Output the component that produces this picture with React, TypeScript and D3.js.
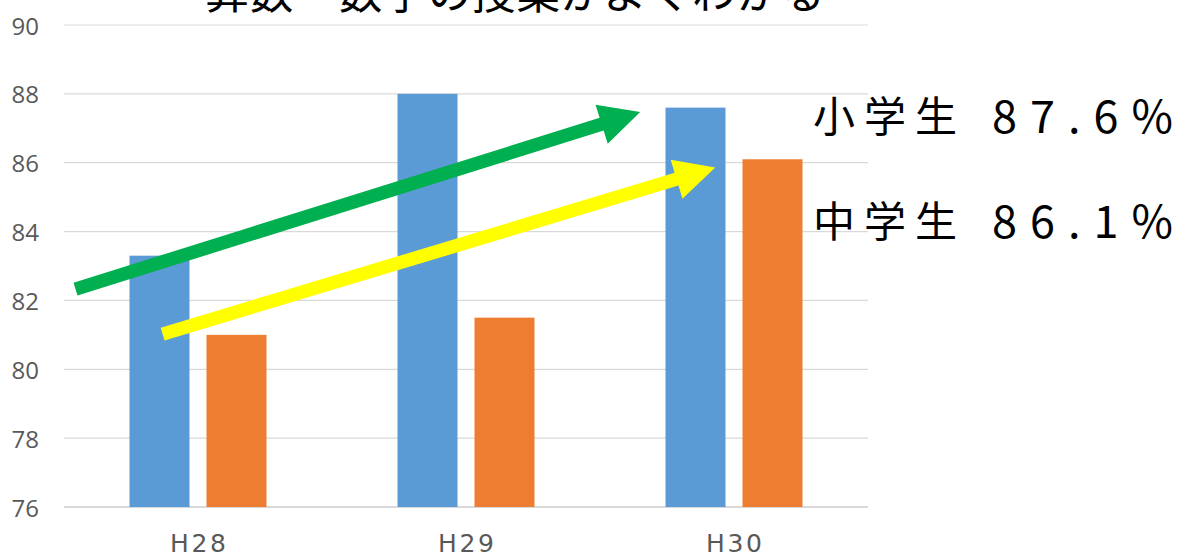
import * as d3 from 'd3';

const categories = ['H28', 'H29', 'H30'];
const seriesNames = ['小学生', '中学生'];
const elementary = [83.3, 88.0, 87.6];
const juniorHigh = [81.0, 81.5, 86.1];
const yTicks = [76, 78, 80, 82, 84, 86, 88, 90];
const title = '算数・数学の授業がよくわかる';
const calloutValues = ['87.6%', '86.1%'];
// arrow annotations in (category position, value) space
const arrowFrom: [number, number][] = [[0.043, 82.33], [0.368, 81.02]];
const arrowTo: [number, number][] = [[2.15, 87.47], [2.43, 85.86]];
const arrowColors = ['#00B050', '#FFFF00'];

const W = 1187;
const H = 556;
const left = 64;
const right = 868;
const top = 25;
const bottom = 507;

const colors = ['#5B9BD5', '#ED7D31'];

export default function App() {
    const x0 = d3.scaleBand().domain(categories).range([left, right]).padding(0);
    const x1 = d3.scaleBand().domain(seriesNames).range([65.5, 202.5]).paddingInner(0.2208).paddingOuter(0);
    const xPos = d3.scaleLinear().domain([0, 3]).range([left, right]);
    const y = d3.scaleLinear().domain([76, 90]).range([bottom, top]);
    const series = [elementary, juniorHigh];

    const arrowPath = (from: [number, number], to: [number, number]) => {
        const sx = xPos(from[0]), sy = y(from[1]);
        const tx = xPos(to[0]), ty = y(to[1]);
        const len = Math.hypot(tx - sx, ty - sy);
        const ux = (tx - sx) / len, uy = (ty - sy) / len;
        const nx = -uy, ny = ux;
        const w = 13.4 / 2, hw = 40.8 / 2, hl = 40.4;
        const bx = tx - ux * hl, by = ty - uy * hl;
        const pts = [
            [sx + nx * w, sy + ny * w],
            [bx + nx * w, by + ny * w],
            [bx + nx * hw, by + ny * hw],
            [tx, ty],
            [bx - nx * hw, by - ny * hw],
            [bx - nx * w, by - ny * w],
            [sx - nx * w, sy - ny * w],
        ];
        return 'M' + pts.map(p => p.join(',')).join('L') + 'Z';
    };

    return (
        <svg width={W} height={H} style={{ position: 'absolute', left: 0, top: 0, background: '#fff' }}>
            {/* gridlines */}
            {yTicks.map(t => (
                <line key={t} x1={left} x2={right} y1={y(t)} y2={y(t)}
                    stroke="#D9D9D9" strokeWidth={t === 76 ? 1.8 : 1.2} />
            ))}
            {/* y tick labels */}
            {yTicks.map(t => (
                <text key={'l' + t} x={39} y={y(t)} textAnchor="end" dominantBaseline="central"
                    fontFamily="'Open Sans', sans-serif" fontSize={24} fill="#595959">{t}</text>
            ))}
            {/* bars */}
            {categories.map((c, i) => (
                <g key={c} transform={`translate(${x0(c)},0)`}>
                    {seriesNames.map((s, j) => (
                        <rect key={s} x={x1(s)} y={y(series[j][i])}
                            width={x1.bandwidth()} height={bottom - y(series[j][i])} fill={colors[j]} />
                    ))}
                </g>
            ))}
            {/* x labels */}
            {categories.map(c => (
                <text key={'x' + c} x={x0(c)! + x0.bandwidth() / 2 - 28} y={552}
                    fontFamily="'DejaVu Sans', sans-serif" fontSize={25} fill="#595959"
                    textLength={56} lengthAdjust="spacing">{c}</text>
            ))}
            {/* arrows */}
            {arrowFrom.map((f, i) => (
                <path key={'a' + i} d={arrowPath(f, arrowTo[i])} fill={arrowColors[i]} />
            ))}
            {/* title */}
            <text x={515} y={9} textAnchor="middle" fontFamily="'Noto Sans CJK JP', sans-serif"
                fontSize={44} fill="#000" textLength={620} lengthAdjust="spacing">{title}</text>
            {/* callouts */}
            {seriesNames.map((s, i) => (
                <g key={'c' + s}>
                    <text x={813} y={132 + i * 105} fontFamily="'Noto Sans CJK JP', sans-serif" fontSize={42}
                        fill="#000" textLength={144} lengthAdjust="spacing">{s}</text>
                    <text x={992} y={133 + i * 105} fontFamily="'Noto Sans CJK JP', sans-serif" fontSize={45}
                        fill="#000" textLength={181} lengthAdjust="spacing">{calloutValues[i]}</text>
                </g>
            ))}
        </svg>
    );
}
